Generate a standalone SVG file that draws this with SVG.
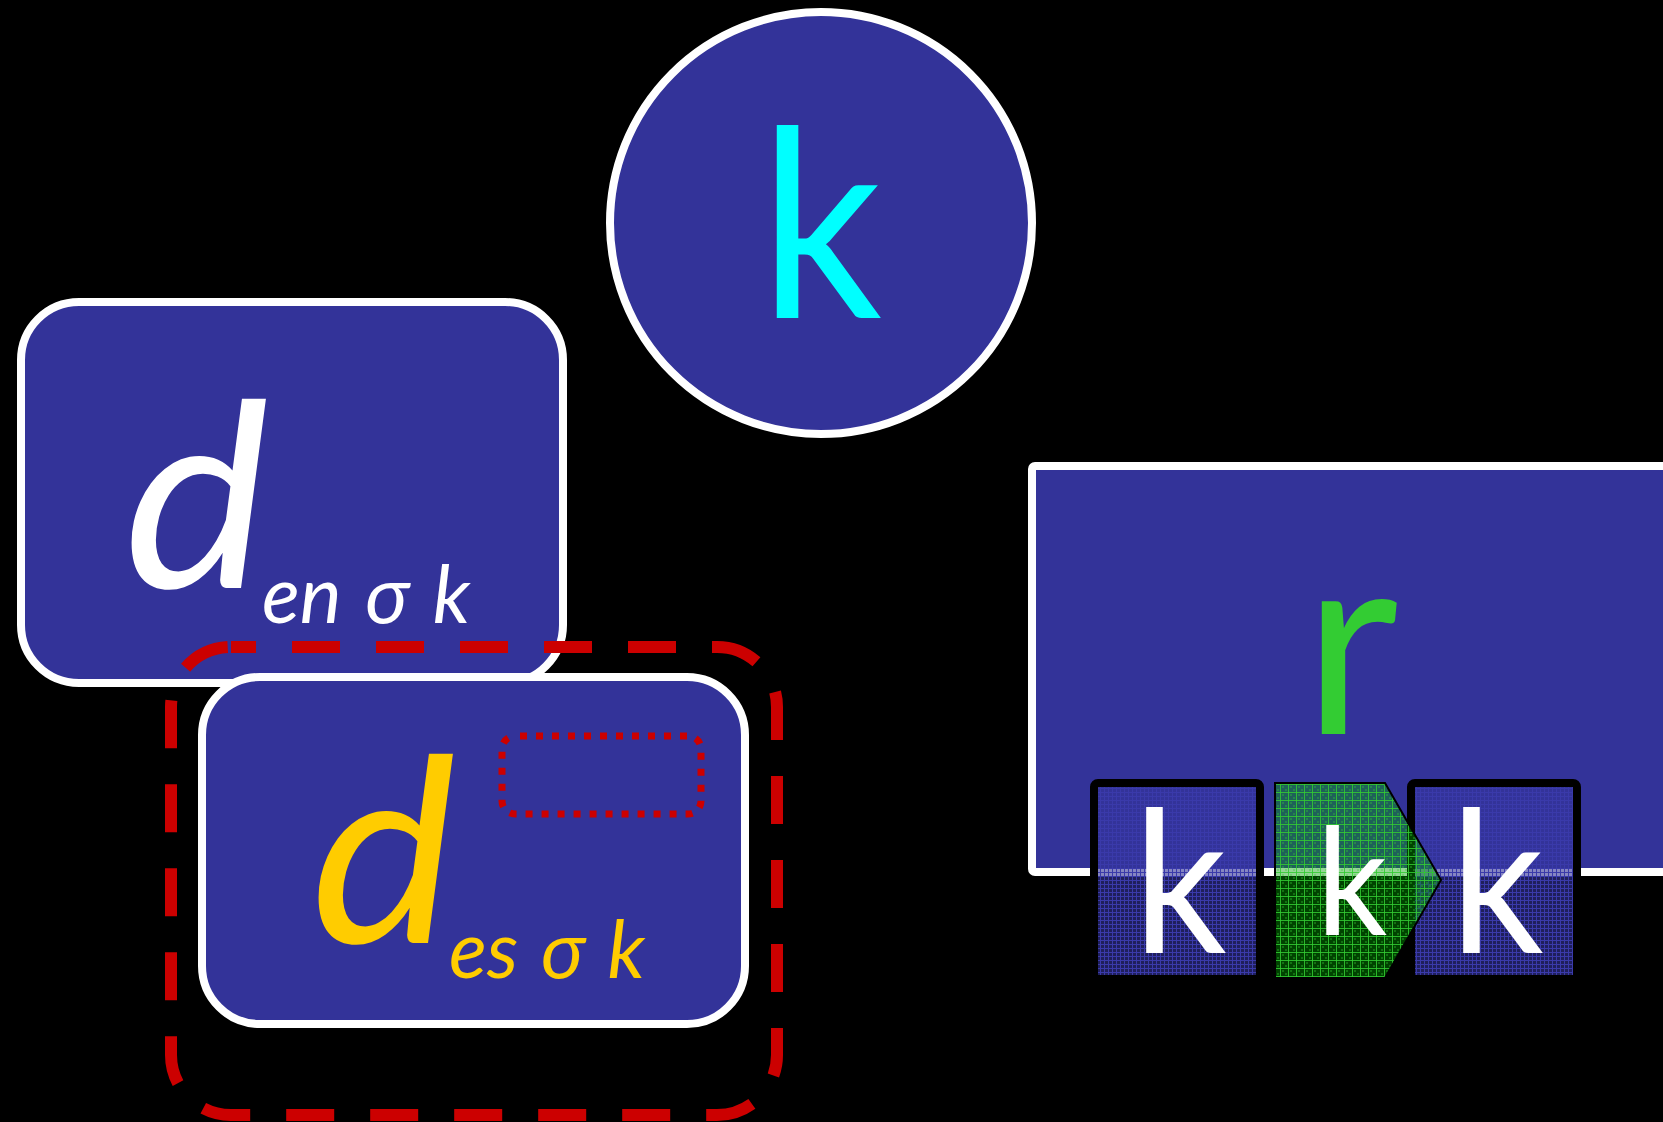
<svg xmlns="http://www.w3.org/2000/svg" width="1663" height="1122" viewBox="0 0 1663 1122">
<style>
.node{fill:#333399;stroke:#ffffff;stroke-width:8}
.up{font-family:Lato,"Noto Sans","DejaVu Sans",sans-serif;font-weight:400}
.it{font-family:Lato,"Noto Sans","DejaVu Sans",sans-serif;font-style:italic;font-weight:400}
.kbox{stroke:#000000;stroke-width:8}
</style>
<defs>
<pattern id="bluePat" width="4" height="4" patternUnits="userSpaceOnUse">
<rect width="4" height="4" fill="#333399" fill-opacity="0.6"/>
<rect width="4" height="1" fill="#3a3aaa"/>
<rect width="1" height="4" fill="#3a3aaa"/>
</pattern>
<pattern id="greenPat" width="8" height="8" patternUnits="userSpaceOnUse">
<rect width="8" height="8" fill="#00a000" fill-opacity="0.42"/>
<rect x="2" y="2" width="2" height="2" fill="#33cc33" fill-opacity="0.35"/>
<rect x="5" y="5" width="2" height="2" fill="#33cc33" fill-opacity="0.35"/>
<rect width="8" height="1" fill="#33cc33" fill-opacity="0.85"/>
<rect width="1" height="8" fill="#33cc33" fill-opacity="0.85"/>
</pattern>
</defs>
<rect width="1663" height="1122" fill="#000000"/>
<g id="node-k-circle">
<circle class="node" cx="821" cy="223" r="211"/>
<text class="up" x="0" y="318" font-size="262" fill="#00ffff" text-anchor="middle" transform="translate(821,0) scale(0.92,1)">k</text>
</g>
<g id="node-d-en">
<rect class="node" x="21" y="302" width="542" height="381" rx="58"/>
<text class="it" x="0" y="588" font-size="257" fill="#ffffff" transform="translate(124,0) scale(1.07,1)">d</text>
<text class="it" x="262" y="623" font-size="79" fill="#ffffff" word-spacing="5">en σ k</text>
</g>
<g id="node-d-es">
<rect class="node" x="202" y="677" width="543" height="347" rx="58"/>
<text class="it" x="0" y="943" font-size="257" fill="#ffcc00" transform="translate(311,0) scale(1.07,1)">d</text>
<text class="it" x="449" y="978" font-size="79" fill="#ffcc00" word-spacing="4">es σ k</text>
<rect x="502" y="736" width="199" height="78" rx="13" fill="none" stroke="#cc0000" stroke-width="7" stroke-dasharray="7 9" stroke-dashoffset="11"/>
</g>
<g id="group-dashed">
<rect x="171" y="647" width="606" height="468" rx="60" fill="none" stroke="#cc0000" stroke-width="12" stroke-dasharray="48 36" stroke-dashoffset="23"/>
</g>
<g id="node-r">
<rect class="node" x="1032" y="466" width="720" height="406" rx="3" stroke-width="7"/>
<text class="up" x="1351" y="734" font-size="262" fill="#33cc33" text-anchor="middle">r</text>
</g>
<g id="node-k1">
<rect class="kbox" x="1094" y="783" width="166" height="196" rx="4" fill="url(#bluePat)"/>
<text class="up" x="0" y="953" font-size="198" fill="#ffffff" text-anchor="middle" transform="translate(1180,0) scale(0.93,1)">k</text>
</g>
<g id="node-k3">
<rect class="kbox" x="1411" y="783" width="166" height="196" rx="4" fill="url(#bluePat)"/>
<text class="up" x="0" y="953" font-size="198" fill="#ffffff" text-anchor="middle" transform="translate(1497,0) scale(0.93,1)">k</text>
</g>
<g id="node-k2">
<polygon points="1275,783 1385,783 1441,880 1385,978 1275,978" fill="url(#greenPat)" stroke="#000000" stroke-width="2"/>
<text class="up" x="0" y="935" font-size="150" fill="#ffffff" text-anchor="middle" transform="translate(1352,0) scale(0.93,1)">k</text>
</g>
<g id="connectors"/>
</svg>
